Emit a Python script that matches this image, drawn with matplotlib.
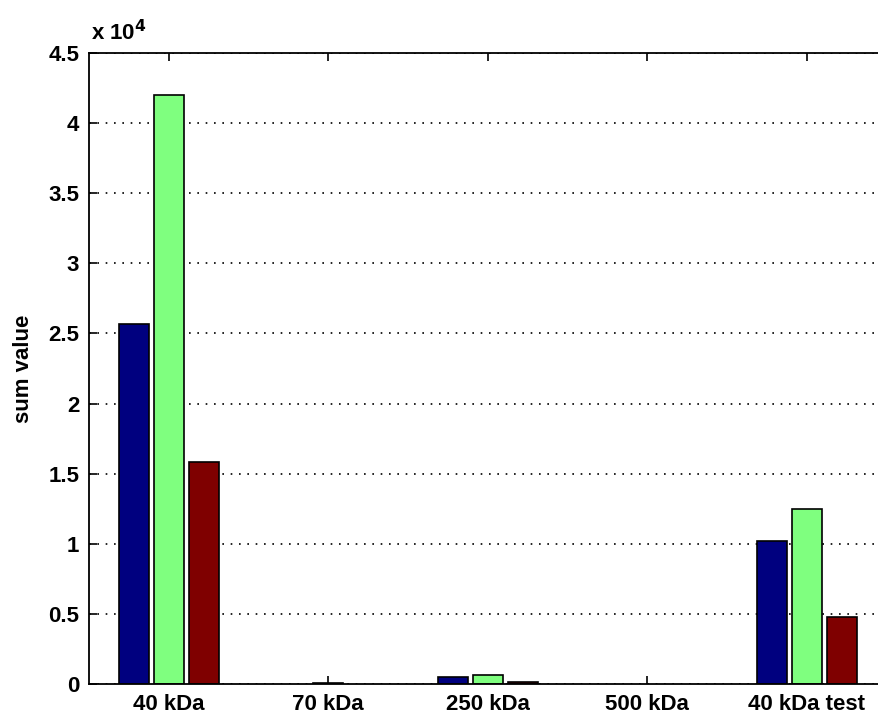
import numpy as np
import matplotlib
matplotlib.use("Agg")
import matplotlib.pyplot as plt
from matplotlib.ticker import FuncFormatter, MultipleLocator

# Data
categories = ["40 kDa", "70 kDa", "250 kDa", "500 kDa", "40 kDa test"]
series_a = [25700, 0, 520, 0, 10200]
series_b = [42000, 80, 670, 0, 12500]
series_c = [15800, 0, 120, 0, 4800]
colors = ["#00007f", "#7fff7f", "#7f0000"]

plt.rcParams["font.family"] = ["Liberation Sans", "DejaVu Sans"]
plt.rcParams["font.weight"] = "bold"
fs = 16

fig = plt.figure(figsize=(8.79, 7.16), dpi=100)
# the reference is cut off on the right, so the right side of the box is not shown
ax = fig.add_axes([89 / 879, 32 / 716, 797.5 / 879, 631 / 716])

x = np.arange(1, len(categories) + 1)
width = 0.19
offset = 0.22
for i, vals in enumerate([series_a, series_b, series_c]):
    bars = ax.bar(x + (i - 1) * offset, vals, width, color=colors[i],
                  edgecolor="black", linewidth=1.2, zorder=3)
    for b, v in zip(bars, vals):
        if v == 0:
            b.set_visible(False)

ax.set_xlim(0.5, 5.5)
ax.set_ylim(0, 45000)
ax.set_xticks(x)
ax.set_xticklabels(categories, fontsize=fs, fontweight="bold")
ax.yaxis.set_major_locator(MultipleLocator(5000))
ax.yaxis.set_major_formatter(FuncFormatter(lambda v, p: f"{v / 1e4:g}"))
for lbl in ax.get_yticklabels():
    lbl.set_fontsize(fs)
    lbl.set_fontweight("bold")
ax.tick_params(direction="in", length=6, width=1.2, top=True, right=False, pad=7)
ax.grid(axis="y", linestyle=(0, (1, 4)), color="black", linewidth=1.2, zorder=0)
ax.spines["right"].set_visible(False)
for s in ax.spines.values():
    s.set_linewidth(1.3)
    s.set_zorder(4)

ax.set_ylabel("sum value", fontsize=fs, fontweight="bold", labelpad=10)
ax.text(0.002, 1.012, r"x 10$^{4}$", transform=ax.transAxes, fontsize=fs,
        fontweight="bold", ha="left", va="bottom")

fig.savefig("out.png", dpi=100)
